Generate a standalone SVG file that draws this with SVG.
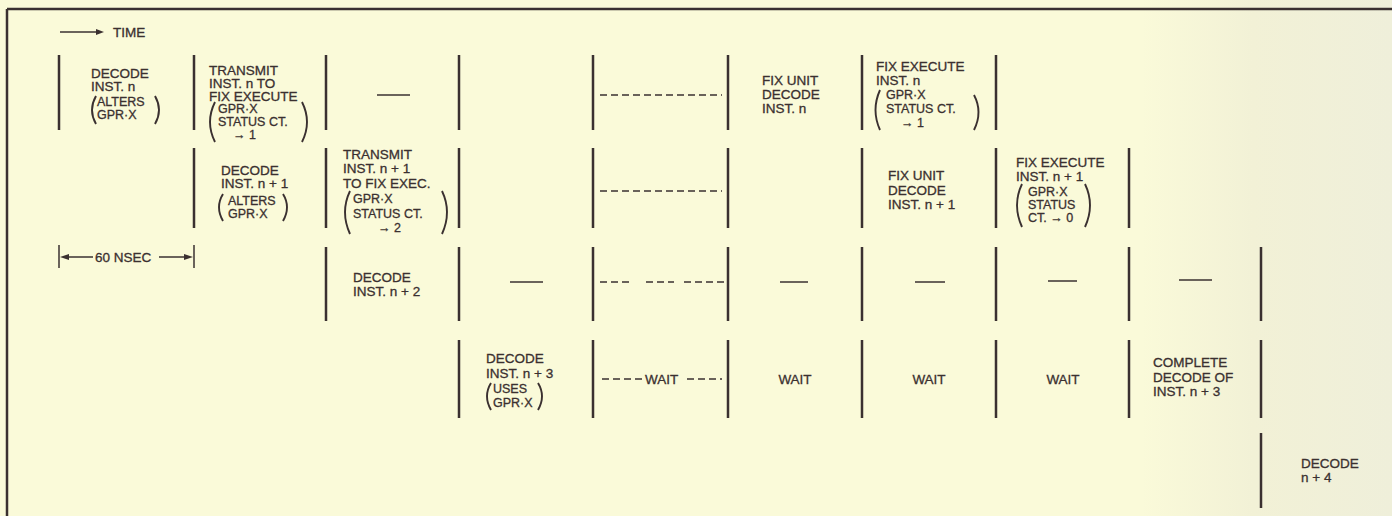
<svg xmlns="http://www.w3.org/2000/svg" width="1392" height="516" viewBox="0 0 1392 516">
<defs>
<linearGradient id="bg" x1="0" y1="0" x2="1" y2="0">
<stop offset="0" stop-color="#FAFAD9"/>
<stop offset="0.82" stop-color="#FAFAD9"/>
<stop offset="0.9" stop-color="#F2F1D6"/>
<stop offset="1" stop-color="#EFEFDA"/>
</linearGradient>
<style>
.t{font-family:"Liberation Sans",Arial,sans-serif;font-size:13.5px;fill:#3a3030;stroke:#3a3030;stroke-width:0.3}
.s{font-size:12.5px}
.m{text-anchor:middle}
.bar{stroke:#3a3030;stroke-width:2.5;fill:none}
.ln{stroke:#3a3030;stroke-width:1.5;fill:none}
.dl{stroke:#3a3030;stroke-width:1.5;fill:none;stroke-dasharray:7 4}
.pr{stroke:#3a3030;stroke-width:1.9;fill:none}
.ah{fill:#3a3030}
</style>
</defs>
<rect width="1392" height="516" fill="url(#bg)"/>
<g id="frame">
<line class="bar" x1="7" y1="9" x2="1392" y2="9" stroke-width="2"/>
<line class="bar" x1="7" y1="9" x2="7" y2="516" stroke-width="2"/>
</g>
<g id="grid">
<path class="bar" d="M59,55V130M194,55V130M326,55V130M459,55V130M593,55V130M728,55V130M862,55V130M996,55V130"/>
<path class="bar" d="M194,148V228M326,148V228M459,148V228M593,148V228M728,148V228M862,148V228M996,148V228M1129,148V228"/>
<path class="bar" d="M326,247V321M459,247V321M593,247V321M728,247V321M862,247V321M996,247V321M1129,247V321M1261,247V321"/>
<path class="bar" d="M459,340V418M593,340V418M728,340V418M862,340V418M996,340V418M1129,340V418M1261,340V418"/>
<path class="bar" d="M1261,433V508"/>
</g>
<g id="connectors">
<line class="ln" x1="60" y1="32" x2="98" y2="32"/>
<polygon class="ah" points="96,29 104,32 96,35"/>
<line class="ln" x1="59" y1="245" x2="59" y2="268"/>
<line class="ln" x1="194" y1="245" x2="194" y2="268"/>
<line class="ln" x1="66" y1="257" x2="93" y2="257"/>
<polygon class="ah" points="60,257 69,254 69,260"/>
<line class="ln" x1="159" y1="257" x2="187" y2="257"/>
<polygon class="ah" points="193,257 184,254 184,260"/>
</g>
<g id="time-label"><text class="t" x="113" y="37">TIME</text></g>
<g id="nsec-label"><text class="t" x="95" y="262">60 NSEC</text></g>

<g id="r1-decode-n">
<text class="t" x="91" y="78">DECODE</text>
<text class="t" x="91" y="91">INST. n</text>
<text class="t s" x="97" y="106">ALTERS</text>
<text class="t s" x="97" y="119">GPR·X</text>
<path class="pr" d="M96,96Q88,110 96,124M155,96Q163,110 155,124"/>
</g>
<g id="r1-transmit-n">
<text class="t" x="209" y="75">TRANSMIT</text>
<text class="t" x="209" y="88">INST. n TO</text>
<text class="t" x="209" y="101">FIX EXECUTE</text>
<text class="t s" x="218" y="113">GPR·X</text>
<text class="t s" x="218" y="126">STATUS CT.</text>
<text class="t s" x="233" y="139">→ 1</text>
<path class="pr" d="M215,102Q205,122 215,142M302,102Q312,122 302,142"/>
</g>
<g id="r1-blank"><line class="ln" x1="377" y1="95" x2="410" y2="95"/></g>
<g id="r1-dashed"><line class="dl" x1="600" y1="95" x2="722" y2="95"/></g>
<g id="r1-fix-unit-decode">
<text class="t" x="762" y="85">FIX UNIT</text>
<text class="t" x="762" y="99">DECODE</text>
<text class="t" x="762" y="113">INST. n</text>
</g>
<g id="r1-fix-execute">
<text class="t" x="876" y="71">FIX EXECUTE</text>
<text class="t" x="876" y="85">INST. n</text>
<text class="t s" x="886" y="99">GPR·X</text>
<text class="t s" x="886" y="113">STATUS CT.</text>
<text class="t s" x="901" y="127">→ 1</text>
<path class="pr" d="M880,90Q871,110 880,130M974,95Q983,112 974,130"/>
</g>

<g id="r2-decode-n1">
<text class="t" x="221" y="175">DECODE</text>
<text class="t" x="221" y="188">INST. n + 1</text>
<text class="t s" x="228" y="205">ALTERS</text>
<text class="t s" x="228" y="218">GPR·X</text>
<path class="pr" d="M223,194Q215,207 223,221M283,194Q291,207 283,221"/>
</g>
<g id="r2-transmit-n1">
<text class="t" x="343" y="159">TRANSMIT</text>
<text class="t" x="343" y="173">INST. n + 1</text>
<text class="t" x="343" y="188">TO FIX EXEC.</text>
<text class="t s" x="353" y="203">GPR·X</text>
<text class="t s" x="353" y="218">STATUS CT.</text>
<text class="t s" x="378" y="232">→ 2</text>
<path class="pr" d="M350,191Q340,212 350,234M442,191Q452,212 442,234"/>
</g>
<g id="r2-dashed"><line class="dl" x1="600" y1="191" x2="722" y2="191"/></g>
<g id="r2-fix-unit-decode">
<text class="t" x="888" y="180">FIX UNIT</text>
<text class="t" x="888" y="195">DECODE</text>
<text class="t" x="888" y="209">INST. n + 1</text>
</g>
<g id="r2-fix-execute">
<text class="t" x="1016" y="167">FIX EXECUTE</text>
<text class="t" x="1016" y="181">INST. n + 1</text>
<text class="t s" x="1028" y="196">GPR·X</text>
<text class="t s" x="1028" y="209">STATUS</text>
<text class="t s" x="1028" y="222">CT. → 0</text>
<path class="pr" d="M1022,184Q1012,205 1022,227M1085,184Q1095,205 1085,227"/>
</g>

<g id="r3-decode-n2">
<text class="t" x="353" y="282">DECODE</text>
<text class="t" x="353" y="296">INST. n + 2</text>
</g>
<g id="r3-blanks">
<line class="ln" x1="510" y1="282" x2="543" y2="282"/>
<path class="dl" d="M600,282H630M646,282H674M684,282H724" stroke-dasharray="6 3"/>
<line class="ln" x1="780" y1="282" x2="808" y2="282"/>
<line class="ln" x1="915" y1="282" x2="945" y2="282"/>
<line class="ln" x1="1048" y1="281" x2="1077" y2="281"/>
<line class="ln" x1="1179" y1="280" x2="1212" y2="280"/>
</g>

<g id="r4-decode-n3">
<text class="t" x="486" y="363">DECODE</text>
<text class="t" x="486" y="378">INST. n + 3</text>
<text class="t s" x="493" y="393">USES</text>
<text class="t s" x="493" y="407">GPR·X</text>
<path class="pr" d="M491,383Q483,396 491,410M538,383Q546,396 538,410"/>
</g>
<g id="r4-wait-1">
<path class="dl" d="M602,379H642M687,379H722" stroke-dasharray="8 4"/>
<text class="t" x="645" y="384">WAIT</text>
</g>
<g id="r4-wait-2"><text class="t m" x="795" y="384">WAIT</text></g>
<g id="r4-wait-3"><text class="t m" x="929" y="384">WAIT</text></g>
<g id="r4-wait-4"><text class="t m" x="1063" y="384">WAIT</text></g>
<g id="r4-complete">
<text class="t" x="1153" y="367">COMPLETE</text>
<text class="t" x="1153" y="382">DECODE OF</text>
<text class="t" x="1153" y="396">INST. n + 3</text>
</g>
<g id="r5-decode-n4">
<text class="t" x="1301" y="468">DECODE</text>
<text class="t" x="1301" y="482">n + 4</text>
</g>
</svg>
